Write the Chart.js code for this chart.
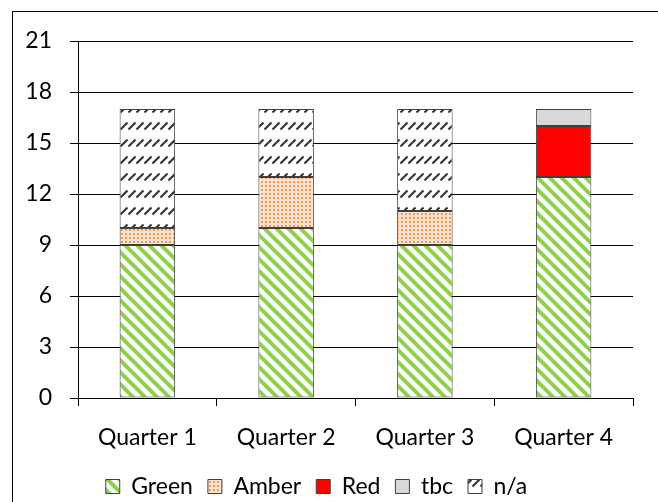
<!DOCTYPE html>
<html>
<head>
<meta charset="utf-8">
<script src="https://cdn.jsdelivr.net/npm/chart.js@4.4.1/dist/chart.umd.min.js"></script>
<style>
  html, body { margin: 0; padding: 0; background: #fff; overflow: hidden; }
  #wrap { position: relative; width: 658px; height: 502px; }
  canvas { display: block; }
</style>
</head>
<body>
<div id="wrap"><canvas id="c" width="658" height="502"></canvas></div>
<script>
const categories = ["Quarter 1", "Quarter 2", "Quarter 3", "Quarter 4"];
const seriesNames = ["Green", "Amber", "Red", "tbc", "n/a"];
const greenValues = [9, 10, 9, 13];
const amberValues = [1, 3, 2, 0];
const redValues   = [0, 0, 0, 3];
const tbcValues   = [0, 0, 0, 1];
const naValues    = [7, 4, 6, 0];
const yTicks = [0, 3, 6, 9, 12, 15, 18, 21];

function makePattern(w, h, draw) {
  const cv = document.createElement('canvas');
  cv.width = w; cv.height = h;
  const g = cv.getContext('2d');
  draw(g, w, h);
  return document.getElementById('c').getContext('2d').createPattern(cv, 'repeat');
}

const greenPattern = makePattern(12, 12, (g, w, h) => {
  g.fillStyle = '#ffffff'; g.fillRect(0, 0, w, h);
  g.strokeStyle = '#8ED04E'; g.lineWidth = 4;
  for (const o of [-12, 0, 12]) {
    g.beginPath(); g.moveTo(o - 2, -2); g.lineTo(o + 14, 14); g.stroke();
  }
});
const amberPattern = makePattern(4, 4, (g, w, h) => {
  g.fillStyle = '#FDE3CF'; g.fillRect(0, 0, w, h);
  g.fillStyle = '#F59A55'; g.fillRect(1, 1, 2, 2);
});
const naPattern = makePattern(8, 17, (g, w, h) => {
  g.fillStyle = '#ffffff'; g.fillRect(0, 0, w, h);
  g.strokeStyle = '#333333'; g.lineWidth = 2;
  g.beginPath(); g.moveTo(0.5, 10.5); g.lineTo(7.5, 3.5); g.stroke();
});

const fills = [greenPattern, amberPattern, '#FF0000', '#D9D9D9', naPattern];
const valueLists = [greenValues, amberValues, redValues, tbcValues, naValues];

const FONT = 'Lato';
const FS = 23;

const frame = {
  id: 'frame',
  beforeDraw(chart) {
    const ctx = chart.ctx;
    ctx.save();
    ctx.fillStyle = '#fff';
    ctx.fillRect(0, 0, chart.width, chart.height);
    ctx.strokeStyle = '#000';
    ctx.lineWidth = 1;
    ctx.strokeRect(12.5, 11.5, 700, 600);
    ctx.restore();
  }
};

new Chart(document.getElementById('c'), {
  type: 'bar',
  data: {
    labels: categories,
    datasets: seriesNames.map((name, i) => ({
      label: name,
      data: valueLists[i],
      backgroundColor: fills[i],
      borderColor: '#3f3f3f',
      borderWidth: 1,
      borderSkipped: false,
      categoryPercentage: 1,
      barPercentage: 0.4
    }))
  },
  options: {
    responsive: false,
    animation: false,
    devicePixelRatio: 1,
    layout: { padding: { left: 0, right: 25, top: 41, bottom: -6 } },
    scales: {
      x: {
        stacked: true,
        grid: { display: true, drawOnChartArea: false, drawTicks: true, tickLength: 8, color: '#000', offset: true },
        border: { display: true, color: '#000', width: 1 },
        ticks: { color: '#000', font: { family: FONT, size: FS }, padding: 18, maxRotation: 0 },
        afterFit(s) { s.height = 62; }
      },
      y: {
        stacked: true,
        min: 0,
        max: 21,
        afterBuildTicks(s) { s.ticks = yTicks.map(v => ({ value: v })); },
        grid: { color: '#000', lineWidth: 1, drawTicks: true, tickLength: 8 },
        border: { display: true, color: '#000', width: 1 },
        ticks: { color: '#000', font: { family: FONT, size: FS }, padding: 18 },
        afterFit(s) { s.width = 78; }
      }
    },
    plugins: {
      legend: {
        position: 'bottom',
        labels: {
          color: '#000',
          font: { family: FONT, size: FS },
          boxWidth: 14,
          boxHeight: 14,
          padding: 15
        }
      },
      tooltip: { enabled: false }
    }
  },
  plugins: [frame]
});
</script>
</body>
</html>
